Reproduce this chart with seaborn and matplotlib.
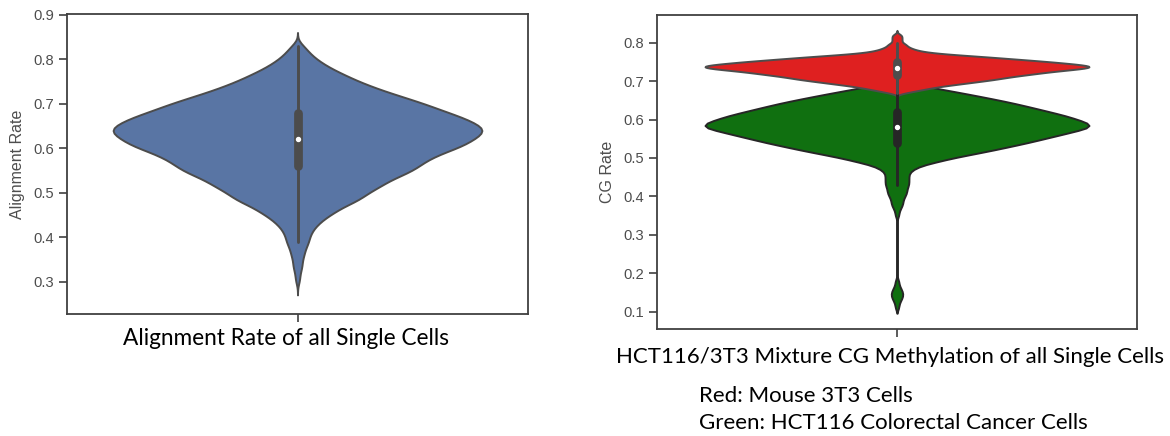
import numpy as np
import pandas as pd
import matplotlib
matplotlib.use("Agg")
import matplotlib.pyplot as plt
import seaborn as sns

# Taxa de alinhamento: valor e nº de células
align_rate = [0.30, 0.31, 0.32, 0.33, 0.34, 0.35, 0.36, 0.37, 0.38, 0.39,
              0.40, 0.41, 0.42, 0.43, 0.44, 0.45, 0.46, 0.47, 0.48, 0.49,
              0.50, 0.51, 0.52, 0.53, 0.54, 0.55, 0.56, 0.57, 0.58, 0.59,
              0.60, 0.61, 0.62, 0.63, 0.64, 0.65, 0.66, 0.67, 0.68, 0.69,
              0.70, 0.71, 0.72, 0.73, 0.74, 0.75, 0.76, 0.77, 0.78, 0.79,
              0.80, 0.81, 0.82, 0.83]
align_count = [1, 1, 1, 2, 2, 2, 3, 3, 4, 5,
               5, 6, 7, 9, 11, 14, 17, 20, 25, 28,
               30, 34, 37, 40, 45, 49, 52, 54, 58, 62,
               68, 72, 75, 78, 80, 78, 74, 70, 64, 59,
               54, 48, 42, 36, 31, 26, 22, 18, 14, 11,
               8, 6, 4, 3]

# Metilação CG - células 3T3 de camundongo (vermelho)
mouse_cg = [0.670, 0.675, 0.680, 0.685, 0.690, 0.695, 0.700, 0.705, 0.710, 0.715,
            0.720, 0.725, 0.730, 0.735, 0.740, 0.745, 0.750, 0.755, 0.760, 0.765,
            0.770, 0.775, 0.780, 0.785, 0.790, 0.795, 0.800, 0.805, 0.810, 0.815,
            0.820]
mouse_count = [2, 4, 6, 8, 11, 14, 17, 20, 22, 25,
               28, 31, 35, 39, 39, 35, 31, 26, 21, 16,
               10, 6, 4, 3, 2, 2, 1, 1, 1, 1,
               1]

# Metilação CG - células HCT116 (verde)
hct_cg = [0.11, 0.12, 0.13, 0.14, 0.15, 0.16, 0.17, 0.18,
          0.35, 0.36, 0.37, 0.38, 0.39, 0.40, 0.41, 0.42, 0.43, 0.44,
          0.45, 0.46, 0.47, 0.48, 0.49, 0.50, 0.51, 0.52, 0.53, 0.54,
          0.55, 0.56, 0.57, 0.58, 0.59, 0.60, 0.61, 0.62, 0.63, 0.64,
          0.65, 0.66, 0.67, 0.68, 0.69, 0.70, 0.71]
hct_count = [1, 1, 2, 3, 3, 2, 1, 1,
             1, 1, 2, 3, 3, 4, 5, 5, 6, 6,
             6, 6, 8, 12, 20, 28, 38, 48, 57, 66,
             74, 82, 90, 98, 97, 91, 85, 77, 69, 61,
             52, 42, 32, 21, 11, 5, 2]

align_ticks = [0.3, 0.4, 0.5, 0.6, 0.7, 0.8, 0.9]
cg_ticks = [0.1, 0.2, 0.3, 0.4, 0.5, 0.6, 0.7, 0.8]

left_title = "Alignment Rate of all Single Cells"
right_title = "HCT116/3T3 Mixture CG Methylation of all Single Cells"
legend_lines = ["Red: Mouse 3T3 Cells", "Green: HCT116 Colorectal Cancer Cells"]


def estilo_eixo(ax, ticks, ylim, label):
    ax.set_ylim(*ylim)
    ax.set_yticks(ticks)
    ax.set_yticklabels([f"{t:.1f}" for t in ticks])
    ax.set_xticks([0])
    ax.set_xticklabels([])
    ax.set_xlabel("")
    ax.set_ylabel(label, fontsize=11.5, color=".3", labelpad=6)
    ax.tick_params(labelsize=10.6, labelcolor=".3", color=".25", length=6, width=1.2)
    for s in ax.spines.values():
        s.set_visible(True)
        s.set_color(".25")
        s.set_linewidth(1.3)


def main():
    sns.set_theme(style="ticks")
    plt.rcParams["font.family"] = ["Liberation Sans", "DejaVu Sans"]

    df_align = pd.DataFrame({"rate": np.repeat(align_rate, align_count)})
    df_mouse = pd.DataFrame({"rate": np.repeat(mouse_cg, mouse_count)})
    df_hct = pd.DataFrame({"rate": np.repeat(hct_cg, hct_count)})

    fig = plt.figure(figsize=(11.7, 4.36), dpi=100)
    ax1 = fig.add_axes([67 / 1170, 1 - 314 / 436, 461 / 1170, 300 / 436])
    ax2 = fig.add_axes([657 / 1170, 1 - 329 / 436, 480 / 1170, 314 / 436])

    # mediana como ponto branco, igual ao original
    box_kws = dict(marker="o", markersize=2.6)

    # --- painel esquerdo ---
    sns.violinplot(data=df_align, y="rate", color="#4C72B0", cut=3, linewidth=1.4,
                   bw_method=0.01 / df_align["rate"].std(), inner_kws=box_kws, ax=ax1)
    estilo_eixo(ax1, align_ticks, (0.227, 0.9016), "Alignment Rate")

    # --- painel direito: verde primeiro, vermelho por cima ---
    sns.violinplot(data=df_hct, y="rate", color="green", cut=2, linewidth=1.4,
                   bw_method=0.007 / df_hct["rate"].std(), inner_kws=box_kws, ax=ax2)
    sns.violinplot(data=df_mouse, y="rate", color="red", cut=3, linewidth=1.4,
                   bw_method=0.004 / df_mouse["rate"].std(), inner_kws=box_kws, ax=ax2)
    ax2.set_xlim(-0.5, 0.5)
    estilo_eixo(ax2, cg_ticks, (0.055, 0.872), "CG Rate")

    fonte = ["Lato", "DejaVu Sans"]
    fig.text(286 / 1170, 1 - 345 / 436, left_title, ha="center", va="baseline",
             fontsize=16.3, family=fonte, color="black")
    fig.text(890 / 1170, 1 - 363 / 436, right_title, ha="center", va="baseline",
             fontsize=16, family=fonte, color="black")
    fig.text(699 / 1170, 1 - 402 / 436, legend_lines[0], ha="left", va="baseline",
             fontsize=16, family=fonte, color="black")
    fig.text(699 / 1170, 1 - 429 / 436, legend_lines[1], ha="left", va="baseline",
             fontsize=16, family=fonte, color="black")

    fig.savefig("out.png", dpi=100)
    plt.close(fig)


if __name__ == "__main__":
    main()
